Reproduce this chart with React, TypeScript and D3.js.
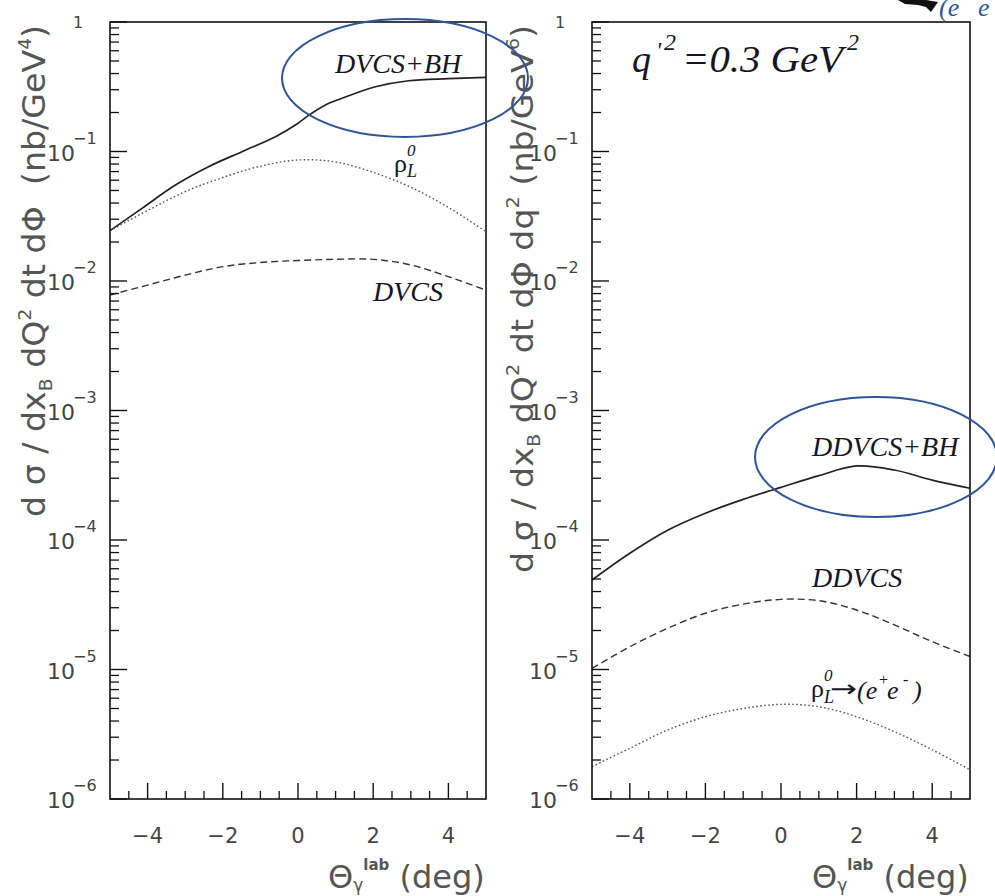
import React from 'react';
import * as d3 from 'd3';

// ---- data ----
const thetaDeg = [-5, -4, -3, -2, -1, 0, 1, 2, 3, 4, 5];
const thetaSolidLeft = [-5, -4.15, -3.26, -2.38, -1.49, -0.6, -0.07, 0.29, 0.73, 1.17, 2.06, 2.94, 4, 5];
const dvcsBH = [0.0245, 0.0364, 0.0551, 0.0763, 0.0997, 0.13, 0.16, 0.191, 0.229, 0.2575, 0.316, 0.352, 0.365, 0.374];
const rhoL = [0.0245, 0.035, 0.049, 0.063, 0.077, 0.086, 0.083, 0.069, 0.053, 0.037, 0.024];
const dvcsOnly = [0.0078, 0.0093, 0.0111, 0.0129, 0.0139, 0.0144, 0.0147, 0.0147, 0.0133, 0.0108, 0.0085];
const ddvcsBH = [4.91e-5, 7.9e-5, 1.19e-4, 1.61e-4, 2.06e-4, 2.55e-4, 3.14e-4, 3.73e-4, 3.47e-4, 2.9e-4, 2.51e-4];
const ddvcsOnly = [1.02e-5, 1.5e-5, 2.08e-5, 2.72e-5, 3.2e-5, 3.48e-5, 3.4e-5, 2.88e-5, 2.21e-5, 1.64e-5, 1.26e-5];
const rhoEE = [1.78e-6, 2.46e-6, 3.41e-6, 4.32e-6, 5.0e-6, 5.38e-6, 5.16e-6, 4.32e-6, 3.31e-6, 2.4e-6, 1.68e-6];
const xMajorTicks = [-4, -2, 0, 2, 4];
const xMinorTicks = [-4.5, -3.5, -3, -2.5, -1.5, -1, -0.5, 0.5, 1, 1.5, 2.5, 3, 3.5, 4.5];
const yDecades = [-6, -5, -4, -3, -2, -1, 0];
const yMinorMult = [2, 3, 4, 5, 6, 7, 8, 9];

const AXFONT = '"DejaVu Sans", sans-serif';
const SERIF = '"Liberation Serif", "Times New Roman", serif';
const AXCOL = '#444';
const TITLECOL = '#555';
const LABCOL = '#151525';
const BLUE = '#2F5597';

const TOP = 22;
const BOTTOM = 799;

type Series = { xs: number[]; ys: number[]; style: 'solid' | 'dashed' | 'dotted' };

function Panel({ left, right, series }: { left: number; right: number; series: Series[] }) {
  const x = d3.scaleLinear().domain([-5, 5]).range([left, right]);
  const y = d3.scaleLog().domain([1e-6, 1]).range([BOTTOM, TOP]);
  const line = d3
    .line<[number, number]>()
    .x((d) => x(d[0]))
    .y((d) => y(d[1]))
    .curve(d3.curveCatmullRom.alpha(0.5));

  const minorY: number[] = [];
  yDecades.slice(0, -1).forEach((e) => yMinorMult.forEach((m) => minorY.push(m * Math.pow(10, e))));

  return (
    <g>
      {series.map((s, i) => (
        <path
          key={i}
          d={line(s.xs.map((v, j) => [v, s.ys[j]] as [number, number])) || ''}
          fill="none"
          stroke={s.style === 'solid' ? '#222' : s.style === 'dashed' ? '#333' : '#555'}
          strokeWidth={s.style === 'solid' ? 1.7 : 1.4}
          strokeDasharray={s.style === 'dashed' ? '7 4' : s.style === 'dotted' ? '1.6 2.4' : undefined}
        />
      ))}
      {/* frame */}
      <rect x={left} y={TOP} width={right - left} height={BOTTOM - TOP} fill="none" stroke="#111" strokeWidth={1.6} />
      {/* y ticks */}
      {yDecades.map((e) => (
        <line key={'ym' + e} x1={left} x2={left + 17} y1={y(Math.pow(10, e))} y2={y(Math.pow(10, e))} stroke="#111" strokeWidth={1.4} />
      ))}
      {minorY.map((v, i) => (
        <line key={'yn' + i} x1={left} x2={left + 9} y1={y(v)} y2={y(v)} stroke="#111" strokeWidth={1.3} />
      ))}
      {/* x ticks */}
      {xMajorTicks.map((t) => (
        <line key={'xm' + t} x1={x(t)} x2={x(t)} y1={BOTTOM} y2={BOTTOM - 16} stroke="#111" strokeWidth={1.4} />
      ))}
      {xMinorTicks.map((t) => (
        <line key={'xn' + t} x1={x(t)} x2={x(t)} y1={BOTTOM} y2={BOTTOM - 8} stroke="#111" strokeWidth={1.3} />
      ))}
      {/* x tick labels */}
      {xMajorTicks.map((t) => (
        <text key={'xl' + t} x={x(t)} y={843} textAnchor="middle" fontFamily={AXFONT} fontSize={21} fill={AXCOL}>
          {t < 0 ? '\u2212' + Math.abs(t) : String(t)}
        </text>
      ))}
      {/* y tick labels */}
      {yDecades.map((e) => {
        const yy = y(Math.pow(10, e));
        if (e === 0) {
          return (
            <text key={'yl' + e} x={left - 37} y={yy + 6} fontFamily={AXFONT} fontSize={16} fill={AXCOL}>
              1
            </text>
          );
        }
        return (
          <g key={'yl' + e}>
            <text x={left - 35} y={yy + 9} textAnchor="end" fontFamily={AXFONT} fontSize={22} fill={AXCOL}>
              10
            </text>
            <text x={left - 37} y={yy - 8} fontFamily={AXFONT} fontSize={16} fill={AXCOL}>
              {'\u2212' + Math.abs(e)}
            </text>
          </g>
        );
      })}
      {/* x axis title */}
      <text x={right - 158} y={888} fontFamily={AXFONT} fontSize={32} fill={TITLECOL}>
        <tspan>Θ</tspan>
        <tspan fontSize={17} dy={3}>γ</tspan>
        <tspan fontSize={15} fontWeight="bold" dy={-21}>lab</tspan>
        <tspan dy={18}>{'\u00A0(deg)'}</tspan>
      </text>
    </g>
  );
}

export default function App() {
  const leftSeries: Series[] = [
    { xs: thetaSolidLeft, ys: dvcsBH, style: 'solid' },
    { xs: thetaDeg, ys: rhoL, style: 'dotted' },
    { xs: thetaDeg, ys: dvcsOnly, style: 'dashed' },
  ];
  const rightSeries: Series[] = [
    { xs: thetaDeg, ys: ddvcsBH, style: 'solid' },
    { xs: thetaDeg, ys: ddvcsOnly, style: 'dashed' },
    { xs: thetaDeg, ys: rhoEE, style: 'dotted' },
  ];
  return (
    <svg
      width={995}
      height={896}
      viewBox="0 0 995 896"
      style={{ position: 'absolute', left: 0, top: 0, background: '#fff' }}
    >
      <rect x={0} y={0} width={995} height={896} fill="#fff" />
      <Panel left={110} right={486} series={leftSeries} />
      <Panel left={592} right={970} series={rightSeries} />

      {/* y axis titles */}
      <text
        transform="translate(45,271) rotate(-90)"
        textAnchor="middle"
        fontFamily={AXFONT}
        fontSize={32}
        fill={TITLECOL}
        textLength={492}
        lengthAdjust="spacingAndGlyphs"
      >
        <tspan>d σ / dx</tspan>
        <tspan fontSize={18} dy={7}>B</tspan>
        <tspan dy={-7}>{' dQ'}</tspan>
        <tspan fontSize={18} dy={-14}>2</tspan>
        <tspan dy={14}>{' dt dΦ\u00A0\u00A0(nb/GeV'}</tspan>
        <tspan fontSize={18} dy={-14}>4</tspan>
        <tspan dy={14}>)</tspan>
      </text>
      <text
        transform="translate(533,299) rotate(-90)"
        textAnchor="middle"
        fontFamily={AXFONT}
        fontSize={31}
        fill={TITLECOL}
        textLength={548}
        lengthAdjust="spacingAndGlyphs"
      >
        <tspan>d σ / dx</tspan>
        <tspan fontSize={18} dy={7}>B</tspan>
        <tspan dy={-7}>{' dQ'}</tspan>
        <tspan fontSize={18} dy={-14}>2</tspan>
        <tspan dy={14}>{' dt dΦ dq'}</tspan>
        <tspan fontSize={18} dy={-14}>2</tspan>
        <tspan dy={14}>{' (nb/GeV'}</tspan>
        <tspan fontSize={18} dy={-14}>6</tspan>
        <tspan dy={14}>)</tspan>
      </text>

      {/* left panel labels */}
      <text x={335} y={73} fontFamily={SERIF} fontStyle="italic" fontSize={28} fill={LABCOL}>DVCS+BH</text>
      <text x={394} y={172} fontFamily={SERIF} fontSize={26} fill={LABCOL}>ρ</text>
      <text x={407} y={177} fontFamily={SERIF} fontStyle="italic" fontSize={18} fill={LABCOL}>L</text>
      <text x={407} y={156} fontFamily={SERIF} fontStyle="italic" fontSize={17} fill={LABCOL}>0</text>
      <text x={373} y={301} fontFamily={SERIF} fontStyle="italic" fontSize={28} fill={LABCOL}>DVCS</text>

      {/* right panel labels */}
      <text fontFamily={SERIF} fontStyle="italic" fill={LABCOL}>
        <tspan x={632} y={72} fontSize={38}>q</tspan>
        <tspan x={656} y={58} fontSize={24}>'</tspan>
        <tspan x={664} y={50} fontSize={24}>2</tspan>
        <tspan x={682} y={72} fontSize={38} textLength={161} lengthAdjust="spacingAndGlyphs">=0.3 GeV</tspan>
        <tspan x={847} y={50} fontSize={24}>2</tspan>
      </text>
      <text x={812} y={456} fontFamily={SERIF} fontStyle="italic" fontSize={28} fill={LABCOL}>DDVCS+BH</text>
      <text x={812} y={587} fontFamily={SERIF} fontStyle="italic" fontSize={28} fill={LABCOL}>DDVCS</text>
      <text x={811} y={697} fontFamily={SERIF} fontSize={26} fill={LABCOL}>ρ</text>
      <text x={824} y={703} fontFamily={SERIF} fontStyle="italic" fontSize={18} fill={LABCOL}>L</text>
      <text x={824} y={681} fontFamily={SERIF} fontStyle="italic" fontSize={17} fill={LABCOL}>0</text>
      <text x={830} y={697} fontFamily={AXFONT} fontSize={24} fill={LABCOL} textLength={27} lengthAdjust="spacingAndGlyphs">→</text>
      <text fontFamily={SERIF} fontStyle="italic" fill={LABCOL}>
        <tspan x={857} y={699} fontSize={26}>(e</tspan>
        <tspan x={878} y={685} fontSize={16}>+</tspan>
        <tspan x={887} y={699} fontSize={26}>e</tspan>
        <tspan x={903} y={685} fontSize={16}>-</tspan>
        <tspan x={913} y={699} fontSize={26}>)</tspan>
      </text>

      {/* annotation ellipses */}
      <ellipse cx={405} cy={78} rx={123} ry={59} fill="none" stroke={BLUE} strokeWidth={2} />
      <ellipse cx={876} cy={457} rx={121} ry={60} fill="none" stroke={BLUE} strokeWidth={2} />

      {/* cropped annotation at the top-right corner */}
      <path d="M898,0 L926,0 L938,2 L931,12 L926,7 L918,5 L905,4 Z" fill="#111" />
      <text fontFamily={SERIF} fontStyle="italic" fill={BLUE}>
        <tspan x={939} y={16} fontSize={26}>(e</tspan>
        <tspan x={966} y={-1} fontSize={14}>+</tspan>
        <tspan x={978} y={16} fontSize={26}>e</tspan>
      </text>
    </svg>
  );
}
